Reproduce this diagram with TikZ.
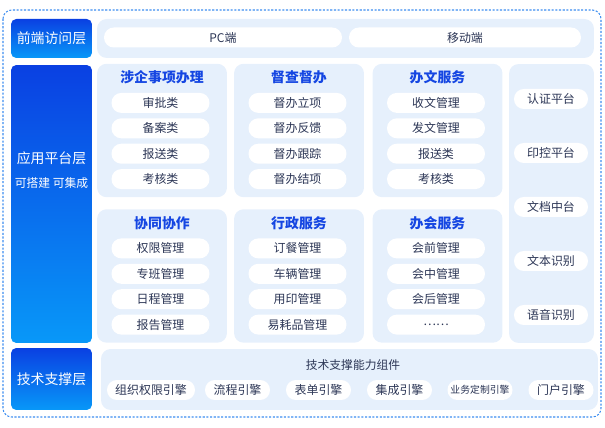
\documentclass[tikz,border=0pt]{standalone}
\usepackage{fontspec}
\setmainfont{Noto Sans CJK SC}
\usetikzlibrary{positioning}

\definecolor{layertop}{HTML}{0A40E2}
\definecolor{layerbot}{HTML}{0898F8}
\definecolor{panelbg}{HTML}{E6F0FC}
\definecolor{titleblue}{HTML}{1546E2}
\definecolor{pilltext}{HTML}{2C3656}
\definecolor{borderblue}{HTML}{3D8EF0}

\tikzset{
  layer/.style={rounded corners=3pt, top color=layertop, bottom color=layerbot,
    text=white, minimum width=1.62cm, inner sep=0pt, font=\fontsize{7.9}{9}\selectfont},
  panel/.style={fill=panelbg, rounded corners=5.5pt, inner sep=0pt},
  pill/.style={fill=white, rounded corners=5.6pt, minimum height=0.4cm, inner sep=0pt,
    text=pilltext, font=\fontsize{6.8}{8}\selectfont},
  ptitle/.style={text=titleblue, font=\bfseries\fontsize{7.9}{9}\selectfont},
}

\begin{document}
\begin{tikzpicture}[x=0.02cm, y=-0.02cm]
  \useasboundingbox (0,0) rectangle (605,428);
  \draw[borderblue, line width=0.6pt, dash pattern=on 1.2pt off 0.9pt, rounded corners=5pt]
    (3,10) rectangle (601,417);

  % left column
  \node[layer, minimum height=0.78cm] (front) at (51.5,38.5) {前端访问层};
  \node[layer, minimum height=5.56cm] (app) at (51.5,204) {};
  \node[text=white, font=\fontsize{7.9}{9}\selectfont] (apptitle) at (51.5,158) {应用平台层};
  \node[text=white, font=\fontsize{6.7}{8}\selectfont] (appnote) at (51.5,183) {可搭建 可集成};
  \node[layer, minimum height=1.24cm] (tech) at (51.5,379) {技术支撑层};

  % front end
  \node[panel, minimum width=9.94cm, minimum height=0.78cm] (frontpanel) at (345.5,38.5) {};
  \node[pill, minimum width=4.76cm] (pc) at (223,37.5) {PC端};
  \node[pill, minimum width=4.64cm] (mobile) at (465,37.5) {移动端};

  % application blocks
  \foreach \n/\cx/\cy/\ttl/\items in {
      qiye/162/130.5/涉企事项办理/{审批类,备案类,报送类,考核类},
      duban/299/130.5/督查督办/{督办立项,督办反馈,督办跟踪,督办结项},
      banwen/437.5/130.5/办文服务/{收文管理,发文管理,报送类,考核类},
      xietong/162/276/协同协作/{权限管理,专班管理,日程管理,报告管理},
      xingzheng/299/276/行政服务/{订餐管理,车辆管理,用印管理,易耗品管理},
      banhui/437.5/276/办会服务/{会前管理,会中管理,会后管理,……}}
  {
    \node[panel, minimum width=2.6cm, minimum height=2.67cm] (\n) at (\cx,\cy) {};
    \node[ptitle] (\n-title) at (\cx,\cy-53) {\ttl};
    \foreach \entry [count=\i] in \items
      \node[pill, minimum width=1.96cm] (\n-\i) at (\cx-1.5,\cy-53+25.4*\i) {\entry};
  }

  % platforms
  \node[panel, minimum width=1.7cm, minimum height=5.58cm] (platform) at (551.5,203.5) {};
  \foreach \entry [count=\i] in {认证平台,印控平台,文档中台,文本识别,语音识别}
    \node[pill, minimum width=1.48cm] (platform-\i) at (551,45+54*\i) {\entry};

  % technical support
  \node[panel, minimum width=9.94cm, minimum height=1.22cm] (techpanel) at (349.5,379.5) {};
  \node[text=pilltext, font=\fontsize{6.7}{8}\selectfont] (techtitle) at (353,365) {技术支撑能力组件};
  \node[pill, minimum width=1.76cm] (org) at (151,390) {组织权限引擎};
  \node[pill, minimum width=1.3cm] (flow) at (237.5,390) {流程引擎};
  \node[pill, minimum width=1.3cm] (form) at (318.5,390) {表单引擎};
  \node[pill, minimum width=1.3cm] (integ) at (399.5,390) {集成引擎};
  \node[pill, minimum width=1.3cm, font=\fontsize{5.6}{7}\selectfont] (biz) at (480,390) {业务定制引擎};
  \node[pill, minimum width=1.3cm] (portal) at (561,390) {门户引擎};
\end{tikzpicture}
\end{document}
